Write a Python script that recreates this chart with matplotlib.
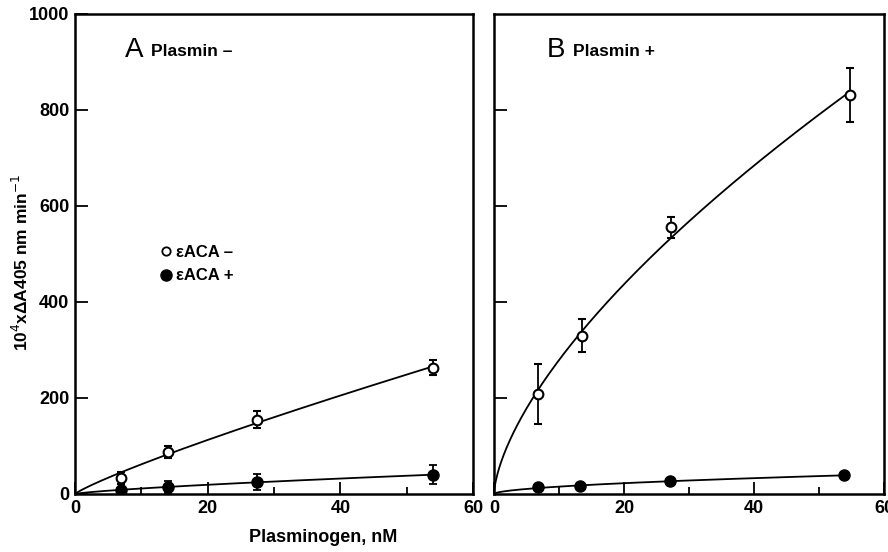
import numpy as np
import matplotlib
matplotlib.use("Agg")
import matplotlib.pyplot as plt
from matplotlib.lines import Line2D

plt.rcParams['font.family'] = ['Liberation Sans Narrow', 'Liberation Sans', 'DejaVu Sans']

# Panel A (Plasmin -)
a_open_x = [7.0, 14.0, 27.5, 54.0]
a_open_y = [33, 87, 155, 263]
a_open_err = [12, 13, 18, 16]
a_fill_x = [7.0, 14.0, 27.5, 54.0]
a_fill_y = [8, 15, 25, 40]
a_fill_err = [4, 12, 16, 20]

# Panel B (Plasmin +)
b_open_x = [6.7, 13.6, 27.3, 54.8]
b_open_y = [208, 330, 556, 831]
b_open_err = [62, 34, 22, 57]
b_fill_x = [6.7, 13.3, 27.0, 53.8]
b_fill_y = [14, 16, 27, 39]
b_fill_err = [0, 0, 0, 0]

xticks = [0, 20, 40, 60]
yticks = [0, 200, 400, 600, 800, 1000]


def power_fit(x, y):
    """Least-squares fit of y = a * x**b in linear space (grid over b)."""
    x = np.asarray(x, float)
    y = np.asarray(y, float)
    best = None
    for b in np.linspace(0.1, 1.5, 1401):
        xb = x**b
        a = np.sum(y * xb) / np.sum(xb * xb)
        sse = np.sum((y - a * xb)**2)
        if best is None or sse < best[0]:
            best = (sse, a, b)
    return best[1], best[2]


fig = plt.figure(figsize=(8.88, 5.52), dpi=100)
axA = fig.add_axes([75/888, 1-494/552, 398/888, 480/552])
axB = fig.add_axes([494/888, 1-494/552, 390/888, 480/552])

panels = [
    (axA, a_open_x, a_open_y, a_open_err, a_fill_x, a_fill_y, a_fill_err,
     ("A", "Plasmin \u2013"), 0.125, 0.19),
    (axB, b_open_x, b_open_y, b_open_err, b_fill_x, b_fill_y, b_fill_err,
     ("B", "Plasmin +"), 0.136, 0.203),
]
for ax, ox, oy, oe, fx, fy, fe, label, lx, px in panels:
    xs = np.linspace(0, max(ox), 400)
    a, b = power_fit(ox, oy)
    ax.plot(xs, a * xs**b, color='black', lw=1.3, zorder=2)
    xs2 = np.linspace(0, max(fx), 400)
    a2, b2 = power_fit(fx, fy)
    ax.plot(xs2, a2 * xs2**b2, color='black', lw=1.3, zorder=2)
    ax.errorbar(ox, oy, yerr=oe, fmt='o', mfc='white', mec='black', mew=1.5,
                ms=7, ecolor='black', elinewidth=1.3, capsize=3, capthick=1.3, zorder=3)
    ax.errorbar(fx, fy, yerr=[e if e > 0 else np.nan for e in fe], fmt='o',
                mfc='black', mec='black', ms=8, ecolor='black', elinewidth=1.3,
                capsize=3, capthick=1.3, zorder=3)
    ax.set_xlim(0, 60)
    ax.set_ylim(0, 1000)
    ax.set_xticks(xticks)
    ax.set_xticks([10, 30, 50], minor=True)
    ax.set_yticks(yticks)
    ax.tick_params(axis='both', which='major', direction='in', length=9, width=1.3,
                   labelsize=13, pad=4)
    ax.tick_params(axis='x', which='minor', direction='in', length=5, width=1.3)
    ax.tick_params(top=False, right=False)
    for t in ax.get_xticklabels() + ax.get_yticklabels():
        t.set_fontweight('bold')
    for s in ax.spines.values():
        s.set_linewidth(1.8)
    ax.text(lx, 0.925, label[0], transform=ax.transAxes, fontsize=20,
            fontweight='light', va='center', ha='left')
    ax.text(px, 0.922, label[1], transform=ax.transAxes, fontsize=12.5,
            fontweight='bold', va='center', ha='left')

axA.set_yticklabels(['0', '200', '400', '600', '800', '1000'])
axB.set_yticks([200, 400, 600, 800])
axB.set_yticklabels([])

handles = [
    Line2D([], [], ls='none', marker='o', mfc='white', mec='black', mew=1.3, ms=6),
    Line2D([], [], ls='none', marker='o', mfc='black', mec='black', ms=8),
]
axA.legend(handles, ['\u03b5ACA \u2013', '\u03b5ACA +'], loc='upper left',
           bbox_to_anchor=(0.17, 0.55), frameon=False, handletextpad=0.1,
           handlelength=1.0, labelspacing=0.5, prop={'weight': 'bold', 'size': 12})

fig.text(21/888, 1-262/552, '10$^4$x\u0394A405 nm min$^{-1}$', rotation=90,
         ha='center', va='center', fontsize=12.5, fontweight='bold')
fig.text(323/888, 1-537/552, 'Plasminogen, nM', ha='center', va='center',
         fontsize=13, fontweight='bold')

fig.savefig('out.png', dpi=100)
